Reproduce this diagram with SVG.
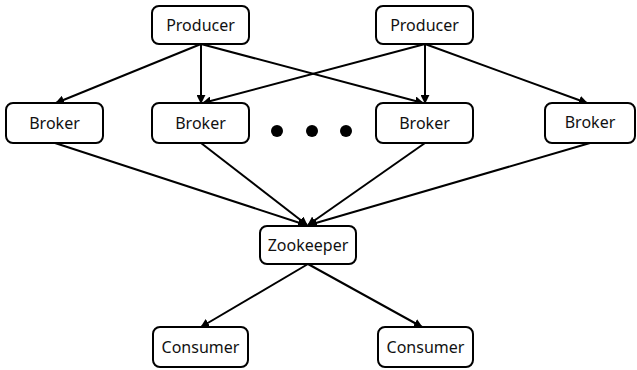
<svg xmlns="http://www.w3.org/2000/svg" width="637" height="370" viewBox="0 0 637 370">
<style>
.box{fill:#fff;stroke:#000;stroke-width:2}
.lbl{font-family:"Noto Sans","Liberation Sans",sans-serif;font-size:16px;fill:#111;text-anchor:middle;dominant-baseline:central}
.edge{stroke:#000;stroke-width:2;fill:none;marker-end:url(#ah)}
</style>
<defs>
<marker id="ah" viewBox="0 0 10 10" refX="9" refY="5" markerWidth="4.5" markerHeight="4.5" orient="auto" markerUnits="strokeWidth">
<path d="M0,0 L10,5 L0,10 z" fill="#000"/>
</marker>
</defs>
<g id="edges">
<line class="edge" x1="201" y1="44" x2="56" y2="103"/>
<line class="edge" x1="201" y1="44" x2="201" y2="103"/>
<line class="edge" x1="201" y1="44" x2="423" y2="103"/>
<line class="edge" x1="425" y1="44" x2="203" y2="103"/>
<line class="edge" x1="425" y1="44" x2="425" y2="103"/>
<line class="edge" x1="425" y1="44" x2="587" y2="103"/>
<line class="edge" x1="55" y1="143" x2="306" y2="225"/>
<line class="edge" x1="201" y1="143" x2="307" y2="225"/>
<line class="edge" x1="425" y1="143" x2="308" y2="225"/>
<line class="edge" x1="590" y1="143" x2="309" y2="225"/>
<line class="edge" x1="308" y1="264" x2="201" y2="327"/>
<line class="edge" x1="308" y1="264" x2="422" y2="327"/>
</g>
<g id="producer1"><rect class="box" x="152" y="6" width="97" height="38" rx="7"/><text class="lbl" x="200.5" y="25">Producer</text></g>
<g id="producer2"><rect class="box" x="376" y="6" width="97" height="38" rx="7"/><text class="lbl" x="424.5" y="25">Producer</text></g>
<g id="broker1"><rect class="box" x="6" y="103" width="97" height="40" rx="7"/><text class="lbl" x="54.5" y="123">Broker</text></g>
<g id="broker2"><rect class="box" x="152" y="103" width="97" height="40" rx="7"/><text class="lbl" x="200.5" y="123">Broker</text></g>
<g id="broker3"><rect class="box" x="376" y="103" width="97" height="40" rx="7"/><text class="lbl" x="424.5" y="123">Broker</text></g>
<g id="broker4"><rect class="box" x="545" y="103" width="90" height="40" rx="7"/><text class="lbl" x="590" y="122">Broker</text></g>
<g id="dots"><circle cx="277" cy="131" r="6"/><circle cx="312" cy="131" r="6"/><circle cx="346" cy="131" r="6"/></g>
<g id="zookeeper"><rect class="box" x="260" y="226" width="96" height="38" rx="7"/><text class="lbl" x="308" y="245">Zookeeper</text></g>
<g id="consumer1"><rect class="box" x="153" y="327" width="95" height="40" rx="7"/><text class="lbl" x="200.5" y="347">Consumer</text></g>
<g id="consumer2"><rect class="box" x="378" y="327" width="95" height="40" rx="7"/><text class="lbl" x="425.5" y="347">Consumer</text></g>
</svg>
